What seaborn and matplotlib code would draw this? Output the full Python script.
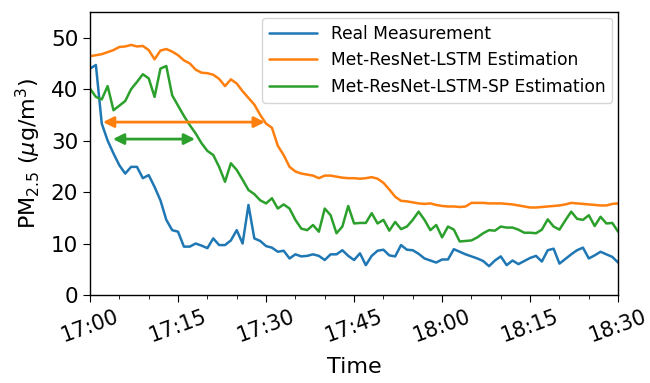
import numpy as np
import pandas as pd
import matplotlib
matplotlib.use("Agg")
import matplotlib.pyplot as plt
import seaborn as sns
from matplotlib.ticker import MultipleLocator

minutes = list(range(91))

real = [44.0, 44.7, 33.3, 30.0, 27.5, 25.2, 23.6, 24.9, 24.9, 22.7,
        23.3, 21.0, 18.4, 14.6, 12.6, 12.3, 9.4, 9.4, 10.0, 9.6,
        9.1, 11.0, 9.7, 9.7, 10.6, 12.6, 10.0, 17.5, 11.0, 10.5,
        9.5, 9.2, 8.4, 8.6, 7.1, 7.9, 7.5, 7.6, 7.9, 7.6,
        6.8, 7.9, 7.9, 8.7, 7.6, 6.8, 8.1, 5.8, 7.6, 8.6,
        8.8, 7.7, 7.5, 9.7, 8.8, 8.7, 8.0, 7.1, 6.7, 6.3,
        6.9, 6.9, 8.9, 8.4, 7.9, 7.5, 7.1, 6.6, 5.6, 6.7,
        7.5, 5.8, 6.7, 6.0, 6.6, 7.2, 7.6, 6.5, 8.7, 9.0,
        6.1, 7.0, 7.9, 8.7, 9.2, 7.1, 7.7, 8.4, 7.9, 7.4, 6.3]

lstm = [46.4, 46.6, 46.8, 47.2, 47.6, 48.2, 48.3, 48.6, 48.3, 48.4,
        47.6, 45.8, 47.5, 47.8, 47.3, 46.6, 45.6, 45.0, 43.8, 43.2,
        43.1, 42.8, 42.0, 40.6, 41.9, 41.1, 39.6, 38.3, 37.0, 35.0,
        33.3, 32.5, 29.0, 27.2, 24.9, 24.0, 23.6, 23.4, 23.2, 22.7,
        23.2, 23.2, 23.0, 22.8, 22.7, 22.7, 22.6, 22.7, 22.9, 22.6,
        21.8, 20.5, 19.1, 18.3, 18.2, 18.0, 17.8, 17.7, 17.8, 17.5,
        17.3, 17.2, 17.2, 17.1, 17.2, 17.9, 17.9, 17.9, 17.8, 17.8,
        17.8, 17.7, 17.6, 17.4, 17.2, 17.0, 17.0, 17.1, 17.2, 17.3,
        17.4, 17.6, 17.9, 17.8, 17.7, 17.6, 17.5, 17.4, 17.4, 17.7, 17.8]

lstm_sp = [40.1, 38.5, 38.0, 40.6, 35.9, 36.8, 37.7, 40.0, 41.4, 42.9,
           42.1, 38.5, 44.0, 44.5, 38.8, 36.8, 34.8, 33.0, 31.4, 29.5,
           28.0, 27.2, 24.9, 22.0, 25.6, 24.3, 22.4, 20.4, 19.6, 18.4,
           17.8, 18.8, 16.8, 17.6, 16.8, 14.6, 12.9, 12.6, 13.6, 12.3,
           16.8, 15.5, 12.0, 13.3, 17.3, 13.9, 14.0, 14.0, 15.9, 13.9,
           14.6, 12.5, 14.2, 12.8, 13.3, 14.6, 16.2, 14.6, 12.6, 13.6,
           11.2, 13.3, 12.7, 10.4, 10.5, 10.6, 11.2, 12.0, 12.6, 12.5,
           13.3, 13.1, 13.1, 12.7, 12.1, 12.1, 12.0, 12.7, 14.7, 13.3,
           12.7, 14.5, 16.2, 14.8, 14.6, 15.5, 13.4, 15.2, 13.9, 14.0, 12.3]

series_names = ["Real Measurement", "Met-ResNet-LSTM Estimation",
                "Met-ResNet-LSTM-SP Estimation"]
colors = ["#1f77b4", "#ff7f0e", "#2ca02c"]

tick_minutes = [0, 15, 30, 45, 60, 75, 90]
tick_labels = ["17:00", "17:15", "17:30", "17:45", "18:00", "18:15", "18:30"]

# arrows (start minute, end minute, value)
orange_arrow = (2.2, 29.8, 33.6)
green_arrow = (3.9, 17.9, 30.3)

df = pd.DataFrame({
    "minute": minutes * 3,
    "value": real + lstm + lstm_sp,
    "series": [series_names[0]] * 91 + [series_names[1]] * 91 + [series_names[2]] * 91,
})

sns.set_style("ticks")
plt.rcParams["font.family"] = ["DejaVu Sans"]
plt.rcParams["mathtext.fontset"] = "dejavusans"
plt.rcParams["text.color"] = "black"
plt.rcParams["axes.labelcolor"] = "black"
plt.rcParams["xtick.color"] = "black"
plt.rcParams["ytick.color"] = "black"

fig = plt.figure(figsize=(6.5, 3.83), dpi=100)
ax = fig.add_axes([0.1385, 0.2298, 0.8125, 0.7389])

sns.lineplot(data=df, x="minute", y="value", hue="series",
             palette=colors, hue_order=series_names, lw=1.8, ax=ax)

for (x0, x1, yv), c in [(orange_arrow, colors[1]), (green_arrow, colors[2])]:
    ax.annotate("", xy=(x1, yv), xytext=(x0, yv),
                arrowprops=dict(arrowstyle="<|-|>", color=c, lw=2,
                                mutation_scale=16, shrinkA=0, shrinkB=0))

ax.set_xlim(0, 90)
ax.set_ylim(0, 55)
ax.set_xticks(tick_minutes)
ax.set_xticklabels(tick_labels, rotation=20, ha="center", fontsize=15)
ax.xaxis.set_minor_locator(MultipleLocator(5))
ax.set_yticks([0, 10, 20, 30, 40, 50])
ax.tick_params(axis="y", labelsize=15.5)
ax.tick_params(which="both", direction="out", color="black")
ax.tick_params(which="major", length=5)
ax.tick_params(which="minor", length=3)
for s in ax.spines.values():
    s.set_visible(True)
    s.set_color("black")
    s.set_linewidth(1.0)

ax.set_xlabel("Time", fontsize=16, labelpad=8)
ax.set_ylabel(r"PM$_{2.5}$ ($\mu$g/m$^3$)", fontsize=16, labelpad=6)

leg = ax.legend(loc="upper right", fontsize=12.3, handlelength=2.8,
                frameon=True, fancybox=True, borderaxespad=0.35)
leg.get_frame().set_edgecolor("#cccccc")
leg.set_title(None)

fig.savefig("out.png", dpi=100)
